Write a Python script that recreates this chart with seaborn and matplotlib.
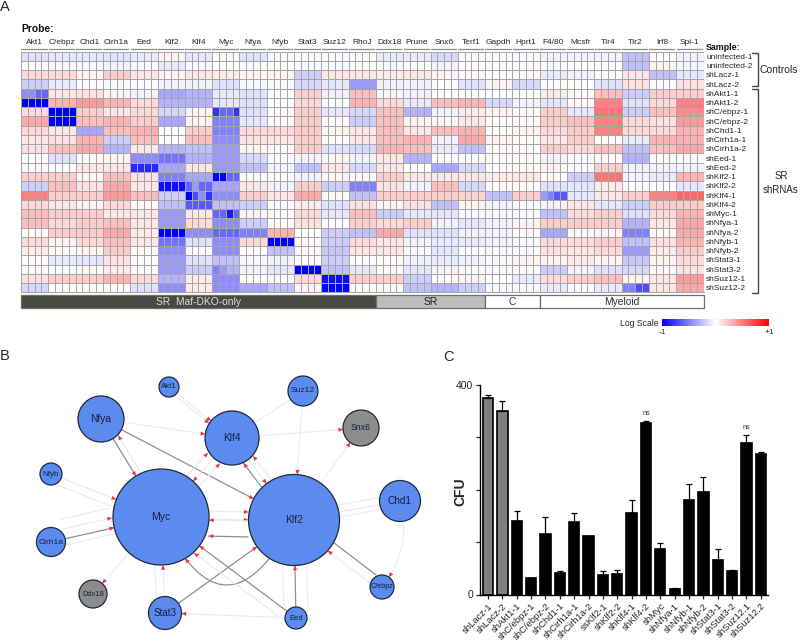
"""
plot.py
Three panel figure: probe heatmap (A), regulatory network (B), CFU bars (C).
Saved as 800x643 PNG (8 x 6.43 inches at 100 dpi).
"""

import numpy as np
import pandas as pd
import seaborn as sns
import matplotlib.pyplot as plt
from matplotlib.colors import LinearSegmentedColormap
from matplotlib.patches import FancyArrowPatch

# ---- panel A ----
probes = ["Akt1", "C/ebpz", "Chd1", "Cirh1a", "Eed", "Klf2", "Klf4", "Myc", "Nfya",
          "Nfyb", "Stat3", "Suz12", "RhoJ", "Ddx18", "Prune", "Snx6", "Terf1", "Gapdh",
          "Hprt1", "F4/80", "Mcsfr", "Tlr4", "Tlr2", "Irf8", "Spi-1"]
samples = ["uninfected-1", "uninfected-2", "shLacz-1", "shLacz-2", "shAkt1-1", "shAkt1-2",
           "shC/ebpz-1", "shC/ebpz-2", "shChd1-1", "shCirh1a-1", "shCirh1a-2", "shEed-1",
           "shEed-2", "shKlf2-1", "shKlf2-2", "shKlf4-1", "shKlf4-2", "shMyc-1", "shNfya-1",
           "shNfya-2", "shNfyb-1", "shNfyb-2", "shStat3-1", "shStat3-2", "shSuz12-1",
           "shSuz12-2"]
# one value per probe, each probe has four replicate cells
heat_values = [
    [-.12, -.10, -.10, -.12, -.08, .05, -.10, .02, -.12, -.03, -.03, -.03, .03, -.08, -.08, -.15, .03, -.03, -.03, -.05, -.06, -.05, -.25, .00, -.06],
    [.00, -.03, -.03, -.05, -.03, -.08, -.03, .00, -.03, .00, -.02, -.03, -.02, -.03, .00, -.05, .00, -.02, -.02, -.03, .00, .00, -.25, .05, -.04],
    [.15, .15, .05, .20, .10, .05, .10, .08, .05, .05, -.20, .10, .10, .08, .10, .05, .03, .00, .03, -.08, -.05, -.02, .10, -.25, -.10],
    [-.20, -.08, -.02, -.03, -.02, -.05, -.05, -.12, -.03, -.03, -.15, -.10, -.40, -.05, -.05, .00, -.12, .05, -.15, -.02, .00, -.12, .12, -.02, .12],
    [-.50, .10, .12, .05, -.05, -.35, -.30, -.08, -.12, .00, .20, -.06, .25, .05, -.06, .00, .00, .00, .00, .08, .02, .25, -.20, .20, .20],
    [-1.0, .30, .40, .30, .15, -.30, -.30, -.10, -.12, .00, .15, -.02, .30, .15, -.08, .25, .30, -.15, -.05, -.10, .02, .50, -.12, .15, .50],
    [.15, -1.0, .20, .10, .15, -.15, .05, -.65, -.12, .02, .20, -.10, -.15, .25, -.30, -.05, .08, .05, .02, .20, -.10, .55, -.20, .25, .45],
    [.35, -1.0, .25, .30, .20, -.35, .05, -.50, -.10, .02, .20, .02, -.20, .25, .05, .02, .10, .00, .02, .20, .25, .50, .15, .12, .40],
    [.15, .10, -.35, .25, .30, .00, .20, -.50, .15, .15, .20, .05, .10, .25, .10, .25, .30, .00, .05, .15, .20, .50, .15, .15, .30],
    [.10, .12, .30, -.20, .25, .02, .25, -.45, .12, .10, .20, -.02, .10, .25, .30, -.05, .35, .05, .03, .10, .20, .02, -.08, .30, .30],
    [.12, .25, .35, -.30, .10, -.30, -.25, -.40, .05, .03, .20, -.12, -.15, .30, .25, -.08, -.25, .02, .02, .20, .15, .25, -.25, .25, .35],
    [.00, -.12, .02, .05, -.45, -.55, -.30, -.40, -.15, -.02, -.05, .05, -.05, .10, -.30, -.02, .02, .02, .02, -.05, -.02, .03, -.30, .03, .02],
    [.03, .02, .10, .10, -.85, -.35, .10, -.40, -.25, -.05, -.25, .10, -.15, .10, .00, -.35, -.15, .02, .02, .05, -.02, .20, -.05, -.05, -.05],
    [.20, .20, .05, .25, .12, -.50, -.35, -.80, .02, .02, -.05, .05, .02, .20, .10, .10, .10, .08, .10, .02, -.20, .55, -.05, -.08, .30],
    [-.20, .25, .12, .35, .10, -.95, -.55, -.35, .10, -.05, .20, -.20, -.50, .12, -.05, .25, -.15, .02, .02, -.12, -.10, .08, .02, .00, -.10],
    [.50, .20, .20, .40, .25, -.20, -.85, -.45, .20, .10, .35, .03, -.25, .20, .20, .20, .18, -.25, .20, -.60, -.10, .10, .20, .50, .60],
    [.15, .10, .05, .15, .03, -.25, -.65, -.25, -.20, -.02, .08, -.12, .12, .05, .12, -.25, .05, -.05, -.02, -.05, .10, -.10, -.20, .20, .20],
    [.25, .20, .20, .10, .10, -.40, .10, -.75, .05, .02, .15, -.10, .25, -.20, -.10, -.10, -.03, -.03, -.03, -.25, .15, .20, -.12, .15, .30],
    [.25, .15, .20, .25, .10, -.40, .15, -.45, -.20, .02, .12, -.02, .20, .15, .20, -.05, -.10, -.05, .05, .20, .20, .20, -.30, .10, .35],
    [.02, .20, .20, .35, .08, -1.0, -.45, -.60, -.50, .30, .00, -.20, -.25, .35, -.12, -.12, -.05, -.05, .02, -.35, -.03, .05, -.50, .03, .35],
    [.15, .05, .15, .25, .10, -.55, -.12, -.45, .15, -1.0, .02, -.20, .15, .10, -.05, -.08, -.08, -.05, -.03, .15, .15, .20, -.25, .12, .30],
    [.08, .02, .05, .20, .02, -.45, .02, -.45, .00, -.25, .02, -.22, .10, .10, -.02, -.10, -.02, -.03, -.02, .12, .10, .15, -.40, .08, .20],
    [.02, -.08, -.10, .12, .02, -.40, -.12, -.25, -.03, -.05, .02, -.20, .02, .02, -.05, -.08, -.05, -.03, .05, .05, .08, .05, -.22, .05, .15],
    [.03, .02, .03, .08, .02, -.40, -.20, -.40, -.05, -.10, -1.0, -.25, -.10, .02, -.10, -.05, -.02, .03, .02, -.20, -.05, -.12, -.15, .03, .12],
    [.12, .20, .20, .30, .15, -.30, .08, -.45, .02, -.03, .15, -.95, .20, .20, -.20, .02, .05, .00, -.08, .15, .20, .25, .05, .10, .40],
    [-.15, .02, .02, .03, -.12, -.45, .08, -.45, -.35, -.25, .05, -1.0, .02, -.03, -.25, -.30, -.20, -.03, -.03, -.08, -.02, -.08, -.60, .10, .35],
]
# blocks where the four replicate cells clearly differ
heat_cells = [
    ("shAkt1-1", "Akt1", [-.45, -.45, -.60, -.60]),
    ("shC/ebpz-1", "Myc", [-.80, -.60, -.60, -.80]),
    ("shKlf2-1", "Myc", [-1.0, -1.0, -.60, -.60]),
    ("shKlf2-2", "Klf4", [-.60, -.40, -.60, -.60]),
    ("shKlf4-1", "Klf4", [-1.0, -.70, -.45, -.80]),
    ("shKlf4-1", "F4/80", [-.40, -.50, -.65, -.65]),
    ("shMyc-1", "Myc", [-.60, -.60, -.90, -.60]),
    ("shStat3-2", "Myc", [-.50, -.40, -.30, -.30]),
    ("shSuz12-2", "Tlr2", [-.50, -.50, -.70, -.70]),
]
group_names = ["SR  Maf-DKO-only", "SR", "C", "Myeloid"]
group_spans = [13, 4, 2, 6]

# ---- panel B ----
node_names = ["Akt1", "Suz12", "Nfya", "Klf4", "Snx6", "Nfyb", "Myc", "Klf2", "Chd1",
              "Cirh1a", "Ddx18", "Stat3", "Eed", "C/ebpz"]
node_x = [169, 303, 101, 232, 361, 51, 161, 294, 400, 51, 93, 165, 296, 382]
node_y = [387, 391, 419, 438, 428, 474, 517, 520, 501, 542, 594, 613, 618, 587]
node_r = [10, 15, 23, 27, 18, 11, 48, 45.5, 20.5, 14.5, 14, 16.5, 11, 12]
node_kind = ["tf", "tf", "tf", "tf", "other", "tf", "tf", "tf", "tf", "tf", "other", "tf", "tf", "tf"]
# source, target, dark line, arrow head, bend, sideways shift
edges = [
    ("Nfya", "Myc", True, True, 0, 0),
    ("Myc", "Nfya", False, True, 0, 6),
    ("Nfya", "Klf2", True, True, 0, 0),
    ("Nfya", "Klf4", False, True, 0, 0),
    ("Akt1", "Klf4", False, True, 0, 0),
    ("Akt1", "Klf4", False, True, 0, 3),
    ("Suz12", "Klf4", False, False, 0, 0),
    ("Suz12", "Klf2", False, True, 0, 0),
    ("Klf4", "Snx6", False, True, 0, 0),
    ("Klf2", "Snx6", False, True, 0, 0),
    ("Klf2", "Klf4", True, True, 0, -6),
    ("Klf2", "Klf4", False, True, 0, 6),
    ("Klf4", "Klf2", False, True, 0, 0),
    ("Myc", "Klf4", False, True, 0, 8),
    ("Myc", "Klf4", False, True, 0, -8),
    ("Klf4", "Myc", False, True, 0, 0),
    ("Nfyb", "Myc", False, True, 0, 0),
    ("Nfyb", "Myc", False, False, 0, 8),
    ("Cirh1a", "Myc", True, True, 0, 0),
    ("Cirh1a", "Myc", False, False, 0, 6),
    ("Cirh1a", "Myc", False, True, 0, -10),
    ("Cirh1a", "Myc", False, False, 0, -20),
    ("Myc", "Ddx18", False, True, 0, 0),
    ("Myc", "Klf2", False, True, 0, -7),
    ("Myc", "Klf2", False, True, 0, 1),
    ("Klf2", "Myc", False, True, 0, -2),
    ("Klf2", "Myc", True, True, 0, -18),
    ("Klf2", "Myc", True, True, -1.0, 0),
    ("Stat3", "Klf2", True, True, 0, 0),
    ("Stat3", "Myc", False, True, 0, 0),
    ("Stat3", "Myc", False, False, 0, -8),
    ("Eed", "Myc", True, True, 0, 0),
    ("Eed", "Myc", False, True, 0, -9),
    ("Eed", "Klf2", True, True, 0, 0),
    ("Eed", "Klf2", False, False, 0, 12),
    ("Eed", "Klf2", False, False, 0, -12),
    ("Eed", "Stat3", False, True, 0, 0),
    ("C/ebpz", "Klf2", True, False, 0, 6),
    ("C/ebpz", "Klf2", False, True, 0, -4),
    ("Chd1", "Klf2", False, False, 0, 0),
    ("Chd1", "Klf2", False, False, 0, 7),
    ("Chd1", "Klf2", False, False, 0, -5),
    ("Chd1", "C/ebpz", False, True, -.25, 0),
]

# ---- panel C ----
cfu_labels = ["shLacz-1", "shLacz-2", "shAkt1-1", "shC/ebpz-1", "shC/ebpz-2", "shChd1-1",
              "shCirh1a-1", "shCirh1a-2", "ssKlf2-1", "shKlf2-2", "shKlf4-1", "shKlf4-2",
              "shMyc", "shNfya-1", "shNfyb-1", "shNfyb-2", "shStat3-1", "shStat3-2",
              "shSuz12.1", "shSuz12.2"]
cfu_mean = [376, 351, 141, 31, 115, 41, 139, 111, 38, 39, 155, 327, 86, 11, 181, 195, 66, 45, 289, 269]
cfu_upper = [381, 370, 160, 32, 148, 45, 156, 112, 45, 46, 180, 332, 99, 12, 211, 224, 87, 46, 304, 273]
cfu_ns = ["shKlf4-2", "shSuz12.1"]

FIG_W, FIG_H = 800, 643
TEXT = "#262626"
BLUE_NODE = "#5b8bef"
GRAY_NODE = "#8c8c8c"


def px_axes(fig, left, top, right, bottom):
    """Axes placed with image pixel coordinates."""
    return fig.add_axes([left / FIG_W, 1 - bottom / FIG_H,
                         (right - left) / FIG_W, (bottom - top) / FIG_H])


def draw_heatmap(fig):
    ax = px_axes(fig, 21, 51.7, 703.5, 292.3)
    cax = px_axes(fig, 662, 319, 769, 326)
    cmap = LinearSegmentedColormap.from_list("bwr_log", ["#0000ff", "#ffffff", "#ff0000"])
    cells = np.repeat(np.array(heat_values), 4, axis=1)
    for sample, probe, values in heat_cells:
        start = probes.index(probe) * 4
        cells[samples.index(sample), start:start + 4] = values
    sns.heatmap(pd.DataFrame(cells), ax=ax, cmap=cmap, vmin=-1, vmax=1, linewidths=0.5, linecolor="#a6a6a6",
                xticklabels=False, yticklabels=False, cbar_ax=cax,
                cbar_kws={"orientation": "horizontal", "ticks": [-1, 1]})
    ax.add_line(plt.Line2D([0, 100], [26, 26], color="#a6a6a6", lw=0.8, clip_on=False))

    ax.xaxis.tick_top()
    ax.set_xticks(np.arange(len(probes)) * 4 + 2)
    ax.set_xticklabels(probes, fontsize=6, color=TEXT)
    ax.tick_params(axis="x", length=0, pad=4)
    ax.yaxis.tick_right()
    ax.set_yticks(np.arange(len(samples)) + 0.5)
    ax.set_yticklabels(samples, fontsize=6, color=TEXT, rotation=0)
    ax.tick_params(axis="y", length=0, pad=2)
    # probe underlines, just above the grid
    for i in range(len(probes)):
        ax.plot([i * 4 + 0.05, i * 4 + 3.75], [-0.25, -0.25], color="#8c8c8c", lw=0.9, clip_on=False)

    cax.set_xticklabels(["-1", "+1"], fontsize=6, color=TEXT)
    cax.tick_params(axis="x", length=0, pad=2)

    # group strip under the grid
    strip = px_axes(fig, 21, 295, 703.5, 308)
    strip.set_xlim(0, sum(group_spans))
    strip.set_ylim(0, 1)
    strip.axis("off")
    fills = ["#4a4843", "#bcbcbc", "white", "white"]
    inks = ["#dcdcdc", "#222222", "#333333", "#333333"]
    start = 0
    for name, span, fill, ink in zip(group_names, group_spans, fills, inks):
        strip.barh(0.5, span, left=start, height=1, color=fill, edgecolor="#6e6e6e", linewidth=0.9, clip_on=False)
        strip.text(start + span / 2, 0.47, name, ha="center", va="center", fontsize=7.4, color=ink)
        start += span


def draw_network(ax):
    table = pd.DataFrame({"name": node_names, "x": node_x, "y": node_y, "r": node_r, "kind": node_kind})
    table["area"] = (2 * table["r"] * 0.72) ** 2
    places = table.set_index("name")

    for src, dst, dark, head, bend, shift in edges:
        a = places.loc[src]
        b = places.loc[dst]
        gap = np.array([b.x - a.x, b.y - a.y], dtype=float)
        side = np.array([-gap[1], gap[0]]) / np.hypot(*gap) * shift
        start = (a.x + side[0], a.y + side[1])
        end = (b.x + side[0], b.y + side[1])
        common = dict(posA=start, posB=end, shrinkA=a.r * 0.72, shrinkB=b.r * 0.72,
                      connectionstyle=f"arc3,rad={bend}", zorder=1)
        color = "#8f8f8f" if dark else "#ececec"
        ax.add_patch(FancyArrowPatch(arrowstyle="-", color=color, lw=0.9, **common))
        if head:
            ax.add_patch(FancyArrowPatch(arrowstyle="-|>,head_length=3.4,head_width=1.5", mutation_scale=1,
                                         edgecolor="none", facecolor="#f0323c", lw=0, **common))

    sizes = dict(zip(table["area"], table["area"]))
    sns.scatterplot(data=table, x="x", y="y", size="area", sizes=sizes, hue="kind",
                    palette={"tf": BLUE_NODE, "other": GRAY_NODE}, edgecolor="#1f2a3a", linewidth=0.9,
                    legend=False, zorder=3, ax=ax)
    fonts = {"Akt1": 5.6, "Suz12": 6.1, "Nfya": 7.3, "Klf4": 7.2, "Snx6": 6.3, "Nfyb": 5.8, "Myc": 7.5,
             "Klf2": 7.5, "Chd1": 7.2, "Cirh1a": 6, "Ddx18": 5.4, "Stat3": 7.1, "Eed": 5.4, "C/ebpz": 5.2}
    for row in table.itertuples():
        ax.text(row.x, row.y, row.name, ha="center", va="center", fontsize=fonts[row.name],
                color="#14213d", zorder=4)


def draw_bars(fig):
    ax = px_axes(fig, 480, 385, 768, 594.5)
    bars = pd.DataFrame({"label": cfu_labels, "mean": cfu_mean, "upper": cfu_upper})
    colors = {name: ("#7f7f7f" if name.startswith("shLacz") else "#000000") for name in cfu_labels}
    sns.barplot(data=bars, x="label", y="mean", hue="label", palette=colors, legend=False, dodge=False,
                width=0.72, edgecolor="black", linewidth=1.2, saturation=1, ax=ax)
    positions = np.arange(len(cfu_labels))
    spread = bars["upper"] - bars["mean"]
    ax.errorbar(positions, bars["mean"], yerr=[np.zeros(len(spread)), spread], fmt="none",
                ecolor="black", elinewidth=0.9, capsize=2, capthick=0.9)
    for name in cfu_ns:
        i = cfu_labels.index(name)
        ax.text(i, cfu_upper[i] + 14, "ns", ha="center", va="center", fontsize=5.2, color="#333333")

    ax.set_xlim(-0.56, 19.5)
    ax.set_ylim(0, 400)
    ax.set_yticks([0, 100, 200, 300, 400])
    ax.set_yticklabels(["0", "", "", "", "400"], fontsize=7.5)
    ax.set_xticks(positions)
    ax.set_xticklabels(cfu_labels, rotation=45, ha="right", rotation_mode="anchor", fontsize=6.8, color=TEXT)
    ax.tick_params(axis="both", length=3, width=0.9, pad=2, bottom=True, left=True)
    ax.set_xlabel("")
    ax.set_ylabel("CFU", fontsize=10, fontweight="bold")
    ax.yaxis.set_label_coords(-0.045, 0.49)
    sns.despine(ax=ax)
    for side in ["left", "bottom"]:
        ax.spines[side].set_linewidth(1)
        ax.spines[side].set_color("black")


def main():
    sns.set_theme(style="white")
    plt.rcParams["font.family"] = ["Liberation Sans", "DejaVu Sans"]
    fig = plt.figure(figsize=(FIG_W / 100, FIG_H / 100), dpi=100)

    # overlay working in image pixels, for annotations and the network
    over = fig.add_axes([0, 0, 1, 1], zorder=0)
    over.set_xlim(0, FIG_W)
    over.set_ylim(FIG_H, 0)
    draw_network(over)
    over.set_xlim(0, FIG_W)
    over.set_ylim(FIG_H, 0)
    over.axis("off")

    draw_heatmap(fig)
    draw_bars(fig)

    for letter, x, y in [("A", 0, 7), ("B", 0, 356), ("C", 443, 357)]:
        over.text(x, y, letter, fontsize=10.5, color=TEXT, ha="left", va="center")
    over.text(21, 29, "Probe:", fontsize=7.4, fontweight="bold", color="#111111", va="center")
    over.text(706, 47, "Sample:", fontsize=6.4, fontweight="bold", color="#111111", va="center")
    over.text(760, 70, "Controls", fontsize=7.5, color=TEXT, va="center")
    over.text(781, 183, "SR\nshRNAs", fontsize=7, color=TEXT, ha="center", va="center", linespacing=1.5)
    over.text(659, 323, "Log Scale", fontsize=6.2, color=TEXT, ha="right", va="center")
    # sample brackets
    over.plot([752, 758, 758, 752], [53, 53, 86, 86], color="#444444", lw=1)
    over.plot([752, 758, 758, 752], [89, 89, 293, 293], color="#444444", lw=1)

    fig.savefig("out.png", dpi=100)
    plt.close(fig)


if __name__ == "__main__":
    main()
